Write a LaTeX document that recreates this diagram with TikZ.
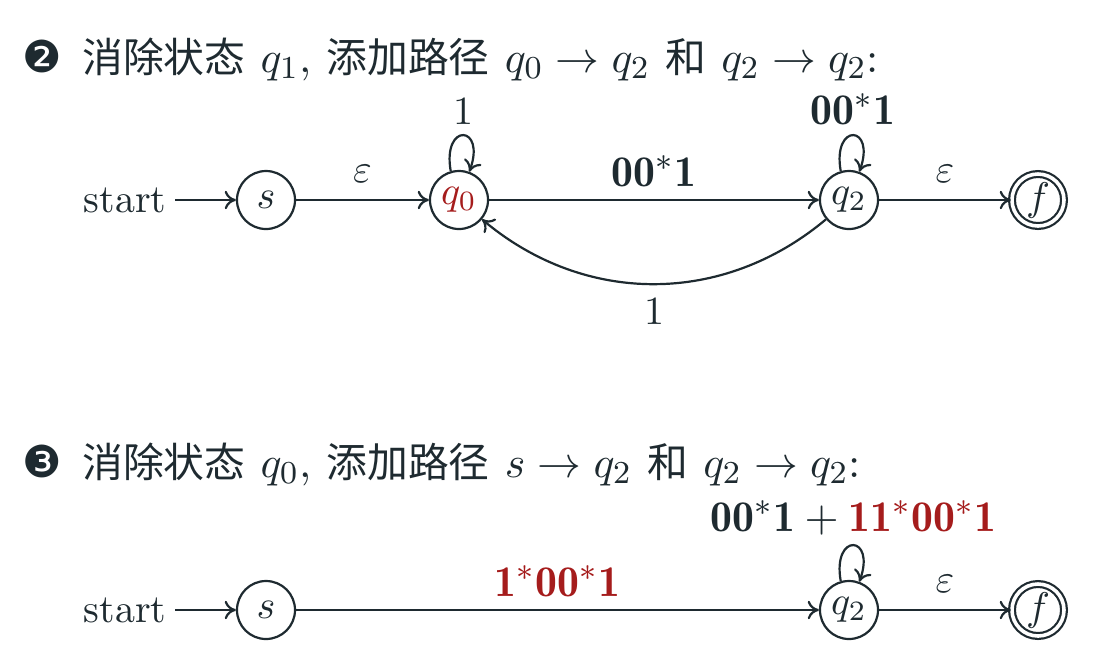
\documentclass[tikz,border=0pt]{standalone}
\usepackage{fontspec}
\newfontfamily\cjk{Noto Sans CJK SC}
\newfontfamily\dingfont{DejaVu Sans}
\usetikzlibrary{arrows.meta}
\definecolor{ink}{RGB}{30,42,48}
\definecolor{myred}{RGB}{165,28,28}
\newcommand{\zh}[1]{{\cjk\fontsize{10.2}{12}\selectfont #1}}
\newcommand{\gap}{\hspace{3.8pt}}
\begin{document}
\begin{tikzpicture}[x=0.25pt,y=-0.25pt,
  every node/.style={text=ink, font=\normalsize},
  state/.style={circle, draw=ink, line width=0.55pt, minimum size=14.5pt, inner sep=0pt},
  accstate/.style={state, double=white, double distance=0.9pt, minimum size=13pt},
  edgeline/.style={draw=ink, line width=0.55pt, -{To[length=2.8pt,width=4.6pt]}},
  lab/.style={inner sep=0pt},
  boldlab/.style={inner sep=0pt, font=\fontsize{10.95}{13}\selectfont},
  heading/.style={anchor=west, inner sep=0pt, font=\fontsize{10.95}{13}\selectfont}]
\useasboundingbox (0,0) rectangle (1094,667);
% ---------- heading 1
\node[heading] (h1) at (22,59) {{\dingfont\fontsize{11}{13}\selectfont ❷}\hspace{5pt}\zh{消除状态}\gap$q_1$,\gap\zh{添加路径}\gap$q_0\rightarrow q_2$\gap\zh{和}\gap$q_2\rightarrow q_2$:};
% ---------- diagram 1
\node (st1) at (125,200) [inner sep=2pt] {start};
\node[state] (s1) at (266,200) {$s$};
\node[state] (q0) at (459,200) {$\color{myred}q_0$};
\node[state] (q2a) at (849,200) {$q_2$};
\node[accstate] (f1) at (1038,200) {$f$};
\draw[edgeline] (st1.east) -- (s1);
\draw[edgeline] (s1) -- node[lab, above=4pt] {$\varepsilon$} (q0);
\draw[edgeline] (q0) -- node[boldlab, above=3pt] {$\mathbf{00^*1}$} (q2a);
\draw[edgeline] (q2a) -- node[lab, above=4pt] {$\varepsilon$} (f1);
\draw[edgeline] (q0.106) .. controls +(100:12.5pt) and +(70:12.5pt) .. node[lab, above=2.5pt] {$1$} (q0.70);
\draw[edgeline] (q2a.106) .. controls +(100:12.5pt) and +(70:12.5pt) .. node[boldlab, above=2.3pt] {$\mathbf{00^*1}$} (q2a.70);
\draw[edgeline] (q2a) to[bend left=40] node[lab, below=3.5pt] {$1$} (q0);
% ---------- heading 2
\node[heading] (h2) at (22,464) {{\dingfont\fontsize{11}{13}\selectfont ❸}\hspace{5pt}\zh{消除状态}\gap$q_0$,\gap\zh{添加路径}\gap$s\rightarrow q_2$\gap\zh{和}\gap$q_2\rightarrow q_2$:};
% ---------- diagram 2
\node (st2) at (125,610) [inner sep=2pt] {start};
\node[state] (s2) at (266,610) {$s$};
\node[state] (q2b) at (849,610) {$q_2$};
\node[accstate] (f2) at (1038,610) {$f$};
\draw[edgeline] (st2.east) -- (s2);
\draw[edgeline] (s2) -- node[boldlab, above=3pt] {$\color{myred}\mathbf{1^*00^*1}$} (q2b);
\draw[edgeline] (q2b) -- node[lab, above=4pt] {$\varepsilon$} (f2);
\draw[edgeline] (q2b.106) .. controls +(100:12.5pt) and +(70:12.5pt) .. node[boldlab, above=2.3pt] {$\mathbf{00^*1}+{\color{myred}\mathbf{11^*00^*1}}$} (q2b.70);
\end{tikzpicture}
\end{document}
